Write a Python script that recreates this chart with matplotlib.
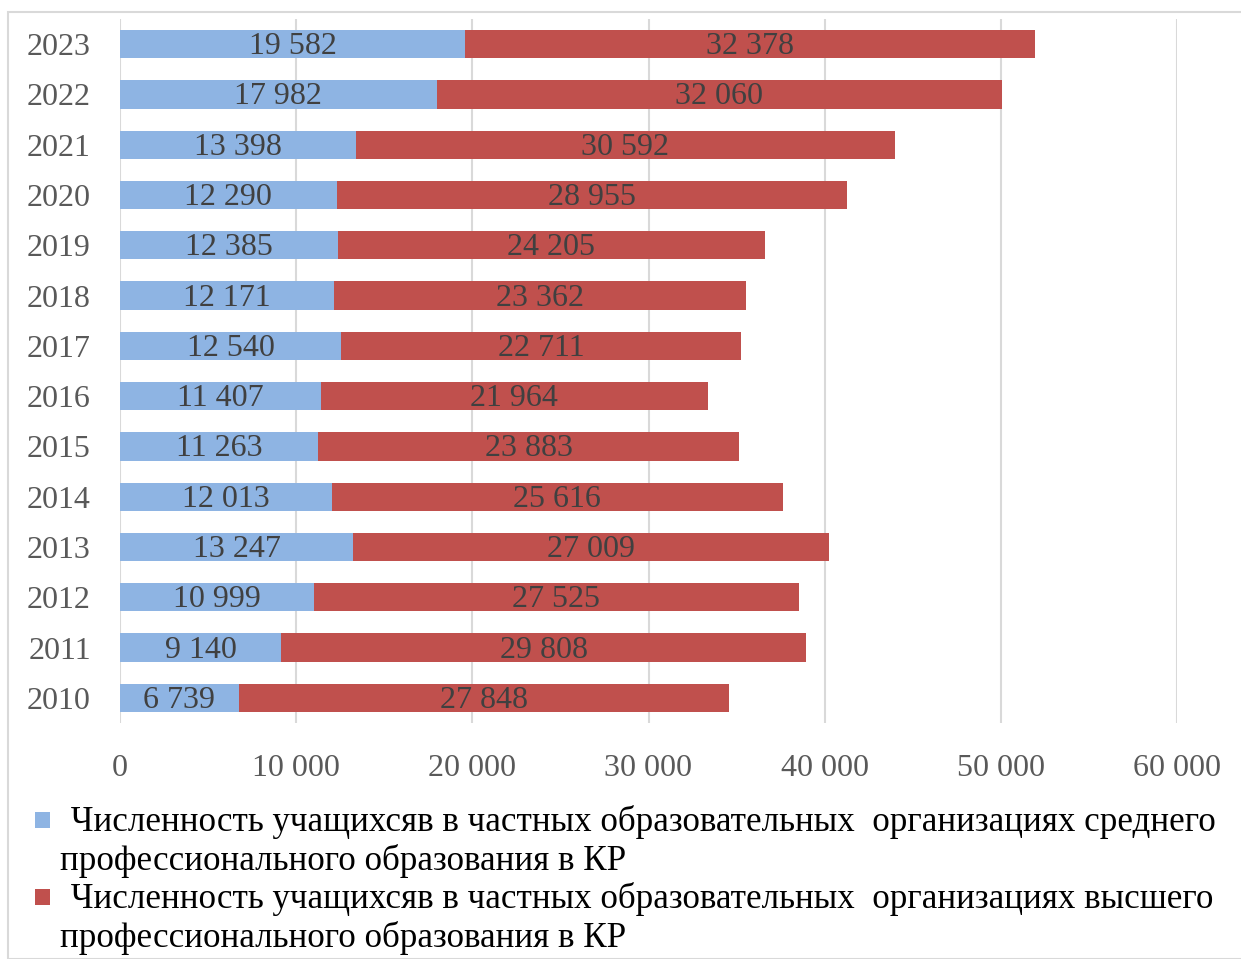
import matplotlib
matplotlib.use("Agg")
import matplotlib.pyplot as plt
from matplotlib.patches import Rectangle

years = ["2010", "2011", "2012", "2013", "2014", "2015", "2016", "2017",
         "2018", "2019", "2020", "2021", "2022", "2023"]
secondary = [6739, 9140, 10999, 13247, 12013, 11263, 11407, 12540,
             12171, 12385, 12290, 13398, 17982, 19582]
higher = [27848, 29808, 27525, 27009, 25616, 23883, 21964, 22711,
          23362, 24205, 28955, 30592, 32060, 32378]
xticks = [0, 10000, 20000, 30000, 40000, 50000, 60000]
legend_labels = [
    " Численность учащихсяв в частных образовательных  организациях среднего\nпрофессионального образования в КР",
    " Численность учащихсяв в частных образовательных  организациях высшего\nпрофессионального образования в КР",
]

BLUE = "#8EB4E3"
RED = "#C0504D"
FONT = "Liberation Serif"

W, H = 1241, 959
fig = plt.figure(figsize=(W / 100, H / 100), dpi=100)
fig.patch.set_facecolor("white")

# outer chart border
fig.patches.append(Rectangle((8 / W, 0), 1.2, (H - 12) / H, transform=fig.transFigure,
                             fill=False, edgecolor="#D9D9D9", linewidth=1.5))

ax = fig.add_axes([120 / W, (H - 723) / H, (1177 - 120) / W, (723 - 19) / H])
ypos = list(range(len(years)))
bar_h = 0.56
ax.barh(ypos, secondary, height=bar_h, color=BLUE, zorder=3)
ax.barh(ypos, higher, left=secondary, height=bar_h, color=RED, zorder=3)

def fmt(v):
    return f"{v:,}".replace(",", " ")

for y, s, h in zip(ypos, secondary, higher):
    ax.text(s / 2, y - 0.05, fmt(s), ha="center", va="center", fontsize=23,
            family=FONT, color="#404040", zorder=4)
    ax.text(s + h / 2, y - 0.05, fmt(h), ha="center", va="center", fontsize=23,
            family=FONT, color="#404040", zorder=4)

ax.set_xlim(0, 60000)
ax.set_ylim(-0.5, len(years) - 0.5)
ax.set_xticks(xticks)
ax.set_xticklabels([fmt(v) for v in xticks], family=FONT, fontsize=23, color="#595959")
ax.set_yticks(ypos)
ax.set_yticklabels(years, family=FONT, fontsize=23, color="#595959")
ax.tick_params(axis="both", length=0)
ax.tick_params(axis="x", pad=22)
ax.tick_params(axis="y", pad=21)
for sp in ax.spines.values():
    sp.set_visible(False)
ax.xaxis.grid(True, color="#D9D9D9", linewidth=1.5, zorder=0)
ax.set_axisbelow(True)

# legend (manual)
colors = [BLUE, RED]
tops = [812, 889]
for c, t, lab in zip(colors, tops, legend_labels):
    fig.patches.append(Rectangle((35 / W, (H - t - 16) / H), 15 / W, 16 / H,
                                 transform=fig.transFigure, facecolor=c, edgecolor="none"))
    lines = lab.split("\n")
    fig.text(62 / W, (H - t - 10) / H, lines[0], ha="left", va="center",
             family=FONT, fontsize=25.2, color="black")
    fig.text(60 / W, (H - t - 49) / H, lines[1], ha="left", va="center",
             family=FONT, fontsize=25.2, color="black")

fig.savefig("out.png", dpi=100)
